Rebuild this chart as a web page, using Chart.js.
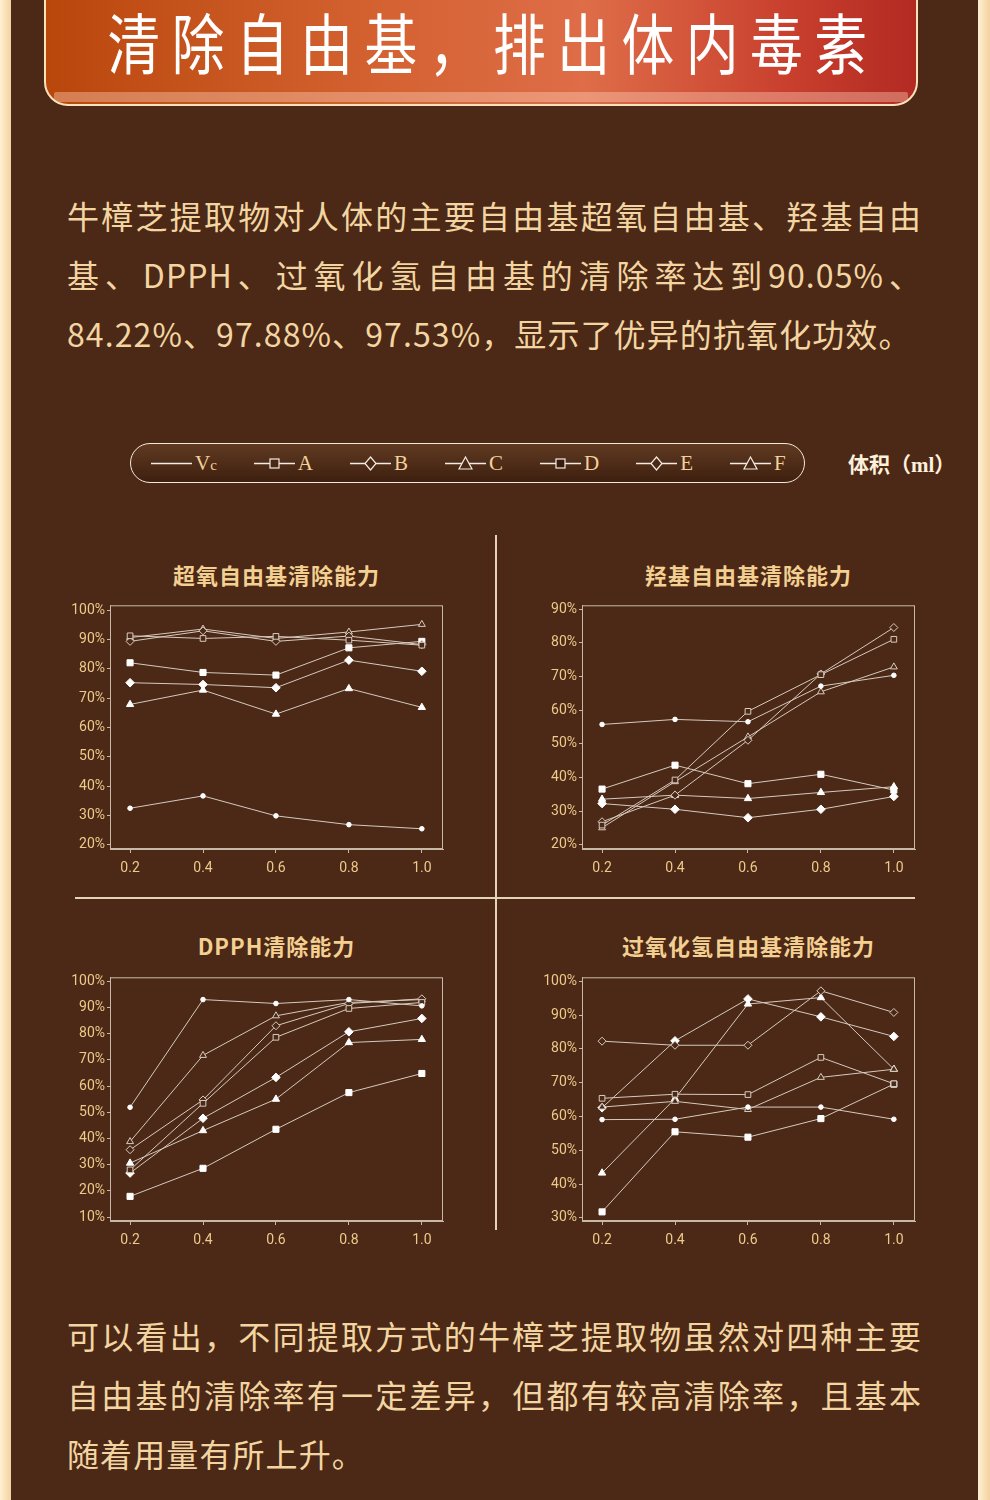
<!DOCTYPE html>
<html lang="zh">
  <head>
    <meta charset="UTF-8" />
    <title>清除自由基，排出体内毒素</title>
    <script src="https://cdn.jsdelivr.net/npm/chart.js"></script>
    <style>
      body { margin: 0; background: #4b2916; }
      #page { position: relative; width: 990px; height: 1500px; overflow: hidden; background: #4b2916; font-family: "Noto Sans CJK SC", sans-serif; }
      .edge { position: absolute; top: 0; bottom: 0; width: 11px; background: linear-gradient(90deg, #fff0d2, #f3d2a0); }
      #banner { position: absolute; left: 44px; top: -30px; width: 870px; height: 132px; border: 2px solid #fbe2bb; border-radius: 24px;
        background: linear-gradient(90deg, #b9470c 0%, #d2602e 35%, #de6d48 62%, #c9402e 85%, #b22a22 100%); overflow: hidden; }
      #banner .glass { position: absolute; left: 8px; right: 8px; bottom: 2px; height: 10px; background: rgba(255, 215, 195, 0.38); border-radius: 2px; }
      #banner h1 { position: absolute; left: -76px; right: -100px; top: 26px; margin: 0; text-align: center; color: #fff; font-size: 60px; font-weight: 400;
        letter-spacing: 13px; line-height: 84px; white-space: nowrap; transform: scale(0.88, 1.1); }
      .para { position: absolute; left: 67px; width: 855px; color: #f3d5a2; font-size: 32px; letter-spacing: 1.1px; line-height: 59px; }
      .para div { white-space: nowrap; }
      .para .j { text-align: justify; text-align-last: justify; white-space: normal; }
      #legend { position: absolute; left: 130px; top: 443px; width: 675px; height: 40px; border: 1.5px solid #f6e8d6; border-radius: 20px;
        background: linear-gradient(180deg, #5f3a22, #3e1f0f); display: flex; align-items: center; padding-left: 20px; box-sizing: border-box; }
      .item { display: flex; align-items: center; margin-right: 37px; color: #f2d29a; font-family: "Liberation Serif", serif; font-size: 21px; }
      .item svg { margin-right: 3px; }
      #unit { position: absolute; left: 848px; top: 448px; color: #fff0dc; font-family: "Liberation Serif", "Noto Sans CJK SC", serif; font-weight: bold; font-size: 21px; }
      .vline { position: absolute; left: 495px; top: 535px; width: 1.5px; height: 695px; background: #e6d2b6; }
      .hline { position: absolute; left: 75px; top: 897px; width: 840px; height: 1.5px; background: #e6d2b6; }
      .title { position: absolute; width: 333px; text-align: center; color: #f3cf92; font-size: 22px; font-weight: bold; line-height: 28px; letter-spacing: 1px; }
      .box { position: absolute; width: 395px; height: 285px; }
    </style>
  </head>
  <body>
    <div id="page">
      <div class="edge" style="left: 0"></div>
      <div class="edge" style="right: 0; width: 12px"></div>
      <div id="banner"><div class="glass"></div><h1>清除自由基，排出体内毒素</h1></div>

      <div class="para" style="top: 186px">
        <div class="j">牛樟芝提取物对人体的主要自由基超氧自由基、羟基自由</div>
        <div class="j">基、DPPH、过氧化氢自由基的清除率达到90.05%、</div>
        <div>84.22%、97.88%、97.53%，显示了优异的抗氧化功效。</div>
      </div>

      <div id="legend"></div>
      <div id="unit">体积（ml）</div>

      <div class="vline"></div>
      <div class="hline"></div>

      <div class="title" style="left: 110px; top: 560px">超氧自由基清除能力</div>
      <div class="title" style="left: 582px; top: 560px">羟基自由基清除能力</div>
      <div class="title" style="left: 110px; top: 931px">DPPH清除能力</div>
      <div class="title" style="left: 582px; top: 931px">过氧化氢自由基清除能力</div>

      <div class="box" style="left: 55px; top: 600px"><canvas id="superChart"></canvas></div>
      <div class="box" style="left: 527px; top: 600px"><canvas id="hydChart"></canvas></div>
      <div class="box" style="left: 55px; top: 972px"><canvas id="dpphChart"></canvas></div>
      <div class="box" style="left: 527px; top: 972px"><canvas id="h2o2Chart"></canvas></div>

      <div class="para" style="top: 1306px">
        <div class="j">可以看出，不同提取方式的牛樟芝提取物虽然对四种主要</div>
        <div class="j">自由基的清除率有一定差异，但都有较高清除率，且基本</div>
        <div>随着用量有所上升。</div>
      </div>
    </div>

    <script>
      const xVals = [0.2, 0.4, 0.6, 0.8, 1.0];
      const xTickLabels = ["0.2", "0.4", "0.6", "0.8", "1.0"];
      const seriesNames = ["Vc", "A", "B", "C", "D", "E", "F"];

      // 超氧自由基 (%)
      const superVc = [32.5, 36.7, 29.9, 26.9, 25.5];
      const superA = [91.3, 90.4, 91.1, 89.8, 88.1];
      const superB = [89.4, 93.0, 89.4, 91.2, 88.3];
      const superC = [90.7, 93.6, 90.4, 92.6, 95.2];
      const superD = [82.1, 78.8, 77.9, 87.2, 89.4];
      const superE = [75.3, 74.7, 73.6, 83.0, 79.2];
      const superF = [67.9, 72.8, 64.6, 73.3, 66.9];
      const superTicks = [20, 30, 40, 50, 60, 70, 80, 90, 100];

      // 羟基自由基 (%)
      const hydVc = [55.8, 57.3, 56.6, 67.2, 70.4];
      const hydA = [25.9, 39.3, 59.7, 70.6, 81.1];
      const hydB = [26.9, 34.8, 51.1, 70.8, 84.6];
      const hydC = [25.1, 38.8, 52.1, 65.5, 72.9];
      const hydD = [36.6, 43.7, 38.2, 41.0, 36.3];
      const hydE = [32.3, 30.6, 28.1, 30.6, 34.4];
      const hydF = [33.6, 34.8, 33.8, 35.6, 37.3];
      const hydTicks = [20, 30, 40, 50, 60, 70, 80, 90];

      // DPPH (%)
      const dpphVc = [51.9, 93.0, 91.5, 93.0, 90.6];
      const dpphA = [28.0, 53.4, 78.6, 89.6, 91.9];
      const dpphB = [35.7, 54.7, 83.0, 91.5, 93.3];
      const dpphC = [38.8, 71.7, 86.8, 91.9, 93.0];
      const dpphD = [17.9, 28.6, 43.5, 57.5, 64.8];
      const dpphE = [26.8, 47.7, 63.3, 80.7, 85.8];
      const dpphF = [30.6, 43.0, 55.0, 76.6, 77.8];
      const dpphTicks = [10, 20, 30, 40, 50, 60, 70, 80, 90, 100];

      // 过氧化氢自由基 (%)
      const h2o2Vc = [59.1, 59.2, 62.8, 62.8, 59.2];
      const h2o2A = [65.4, 66.6, 66.5, 77.5, 69.7];
      const h2o2B = [82.3, 81.1, 81.1, 97.2, 90.8];
      const h2o2C = [62.8, 64.5, 62.1, 71.6, 74.0];
      const h2o2D = [31.8, 55.5, 53.9, 59.4, 69.6];
      const h2o2E = [62.6, 82.4, 94.8, 89.5, 83.7];
      const h2o2F = [43.3, 65.3, 93.3, 95.2, 74.0];
      const h2o2Ticks = [30, 40, 50, 60, 70, 80, 90, 100];

      const bg = "#4b2916";
      const lineColor = "#d6cabf";
      const tickColor = "#efc98a";
      const axisColor = "#c8b8a6";

      // marker per series: Vc, A..C open, D..F filled
      const markers = [
        { pointStyle: "circle", radius: 2.3, fill: "#ffffff", stroke: "#ffffff" },
        { pointStyle: "rect", radius: 4, fill: bg, stroke: "#d8ccc0" },
        { pointStyle: "rectRot", radius: 4, fill: bg, stroke: "#d8ccc0" },
        { pointStyle: "triangle", radius: 4, fill: bg, stroke: "#d8ccc0" },
        { pointStyle: "rect", radius: 4.3, fill: "#ffffff", stroke: "#ffffff" },
        { pointStyle: "rectRot", radius: 4.3, fill: "#ffffff", stroke: "#ffffff" },
        { pointStyle: "triangle", radius: 4.2, fill: "#ffffff", stroke: "#ffffff" },
      ];

      // legend row
      const legendShapes = ["none", "rect", "diamond", "triangle", "rect", "diamond", "triangle"];
      const legendEl = document.getElementById("legend");
      seriesNames.forEach((name, i) => {
        const shape = legendShapes[i];
        const w = 41;
        let mark = "";
        if (shape === "rect") mark = '<rect x="16" y="6" width="9" height="9" fill="' + (i === 4 ? "#3a1a0c" : "#4a2816") + '" stroke="#f4ece2" stroke-width="1.2"/>';
        if (shape === "diamond") mark = '<polygon points="20.5,4 26,10.5 20.5,17 15,10.5" fill="#4a2816" stroke="#f4ece2" stroke-width="1.2"/>';
        if (shape === "triangle") mark = '<polygon points="20.5,4 27,16 14,16" fill="#4a2816" stroke="#f4ece2" stroke-width="1.2"/>';
        const svg = '<svg width="' + w + '" height="20"><line x1="0" y1="10.5" x2="' + w + '" y2="10.5" stroke="#f4ece2" stroke-width="1.4"/>' + mark + "</svg>";
        const label = name === "Vc" ? 'V<span style="font-size:15px">c</span>' : name;
        const item = document.createElement("div");
        item.className = "item";
        item.innerHTML = svg + "<span>" + label + "</span>";
        legendEl.appendChild(item);
      });

      const framePlugin = {
        id: "frame",
        beforeDatasetsDraw(chart) {
          const a = chart.chartArea;
          const ctx = chart.ctx;
          ctx.save();
          ctx.strokeStyle = axisColor;
          ctx.lineWidth = 1;
          ctx.strokeRect(a.left + 0.5, a.top + 0.5, a.width - 1, a.height - 1);
          ctx.restore();
        },
      };

      function makeChart(id, seriesList, yTicks, yMin, yMax) {
        const datasets = seriesList.map((vals, i) => ({
          label: seriesNames[i],
          data: vals.map((v, j) => ({ x: xVals[j], y: v })),
          borderColor: lineColor,
          borderWidth: 1,
          pointStyle: markers[i].pointStyle,
          pointRadius: markers[i].radius,
          pointBackgroundColor: markers[i].fill,
          pointBorderColor: markers[i].stroke,
          pointBorderWidth: 1,
          tension: 0,
          clip: false,
        }));
        new Chart(document.getElementById(id), {
          type: "line",
          data: { datasets },
          options: {
            responsive: true,
            maintainAspectRatio: false,
            animation: false,
            layout: { padding: { top: 5, right: 7, left: 0, bottom: 0 } },
            plugins: { legend: { display: false }, tooltip: { enabled: false } },
            scales: {
              x: {
                type: "linear",
                min: 0.145,
                max: 1.058,
                afterBuildTicks: (s) => { s.ticks = xVals.map((v) => ({ value: v })); },
                afterFit: (s) => { s.height = 36; s.paddingLeft = 0; s.paddingRight = 0; },
                grid: { drawOnChartArea: false, drawTicks: true, tickLength: 4, color: axisColor },
                border: { display: true, color: axisColor },
                ticks: {
                  color: tickColor,
                  padding: 7,
                  font: { family: "Roboto", size: 14 },
                  callback: (v, i) => xTickLabels[i],
                },
              },
              y: {
                min: yMin,
                max: yMax,
                afterBuildTicks: (s) => { s.ticks = yTicks.map((v) => ({ value: v })); },
                afterFit: (s) => { s.width = 55; s.paddingTop = 0; s.paddingBottom = 0; },
                grid: { drawOnChartArea: false, drawTicks: true, tickLength: 3, color: axisColor },
                border: { display: true, color: axisColor },
                ticks: {
                  color: tickColor,
                  padding: 2,
                  font: { family: "Roboto", size: 14 },
                  callback: (v) => v + "%",
                },
              },
            },
          },
          plugins: [framePlugin],
        });
      }

      makeChart("superChart", [superVc, superA, superB, superC, superD, superE, superF], superTicks, 18.6, 101.7);
      makeChart("hydChart", [hydVc, hydA, hydB, hydC, hydD, hydE, hydF], hydTicks, 18.8, 91.2);
      makeChart("dpphChart", [dpphVc, dpphA, dpphB, dpphC, dpphD, dpphE, dpphF], dpphTicks, 8.5, 101.5);
      makeChart("h2o2Chart", [h2o2Vc, h2o2A, h2o2B, h2o2C, h2o2D, h2o2E, h2o2F], h2o2Ticks, 29.1, 101.2);
    </script>
  </body>
</html>
